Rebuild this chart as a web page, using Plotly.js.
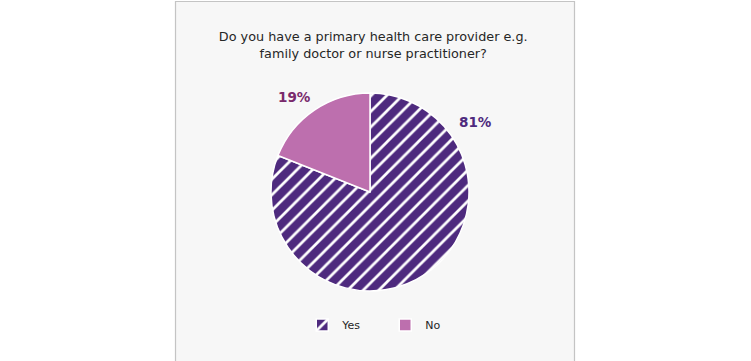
<!DOCTYPE html>
<html>
<head>
<meta charset="utf-8">
<script src="https://cdn.plot.ly/plotly-3.0.1.min.js"></script>
<style>html,body{margin:0;padding:0;background:#fff;}#chart{width:751px;height:361px;}</style>
</head>
<body>
<div id="chart"></div>
<script>
const categories = ["Yes", "No"];
const shares = [81, 19];
const sliceColors = ["#4e2a7e", "#bd6fae"];
const labelColors = ["#4e2a7e", "#7a2a6c"];
const chartTitle = "Do you have a primary health care provider e.g.<br>family doctor or nurse practitioner?";

// label anchor points (paper fraction) for each slice's percentage
const labelPosX = [0.6338, 0.3915];
const labelPosY = [0.662, 0.7313];

const trace = {
  type: "pie",
  labels: categories,
  values: shares,
  sort: false,
  direction: "clockwise",
  rotation: 0,
  domain: {x: [271/751, 469/751], y: [1 - 291/361, 1 - 93/361]},
  marker: {
    colors: sliceColors,
    line: {color: "#ffffff", width: 1.5},
    pattern: {shape: ["/", ""], fgcolor: "#ffffff", bgcolor: sliceColors, size: 11, solidity: 0.25}
  },
  textinfo: "none",
  hoverinfo: "none"
};

const annotations = categories.map((c, i) => ({
  xref: "paper", yref: "paper",
  x: labelPosX[i], y: labelPosY[i], xanchor: "center", yanchor: "middle",
  text: "<b>" + shares[i] + "%</b>", showarrow: false,
  font: {family: "DejaVu Sans, sans-serif", size: 13.5, color: labelColors[i]}
}));

const layout = {
  width: 751, height: 361,
  margin: {l: 0, r: 0, t: 0, b: 0},
  paper_bgcolor: "#ffffff",
  plot_bgcolor: "rgba(0,0,0,0)",
  font: {family: "DejaVu Sans, sans-serif", color: "#262626"},
  title: {
    text: chartTitle,
    font: {family: "DejaVu Sans, sans-serif", size: 12.8, color: "#262626"},
    x: 0.497, xanchor: "center", y: 0.886, yanchor: "middle"
  },
  showlegend: true,
  legend: {
    orientation: "h", x: 0.513, xanchor: "center", y: 0.1, yanchor: "middle",
    font: {family: "DejaVu Sans, sans-serif", size: 11, color: "#262626"},
    bgcolor: "rgba(0,0,0,0)", itemwidth: 30, traceorder: "normal",
    entrywidth: 38, entrywidthmode: "pixels"
  },
  annotations: annotations,
  shapes: [{
    type: "rect", xref: "paper", yref: "paper", layer: "below",
    x0: 175.5/751, x1: 574.5/751, y0: -0.01, y1: 1 - 1.5/361,
    fillcolor: "#f7f7f7", line: {color: "#c4c4c4", width: 1.2}
  }]
};

Plotly.newPlot("chart", [trace], layout, {displayModeBar: false, staticPlot: true});
</script>
</body>
</html>
